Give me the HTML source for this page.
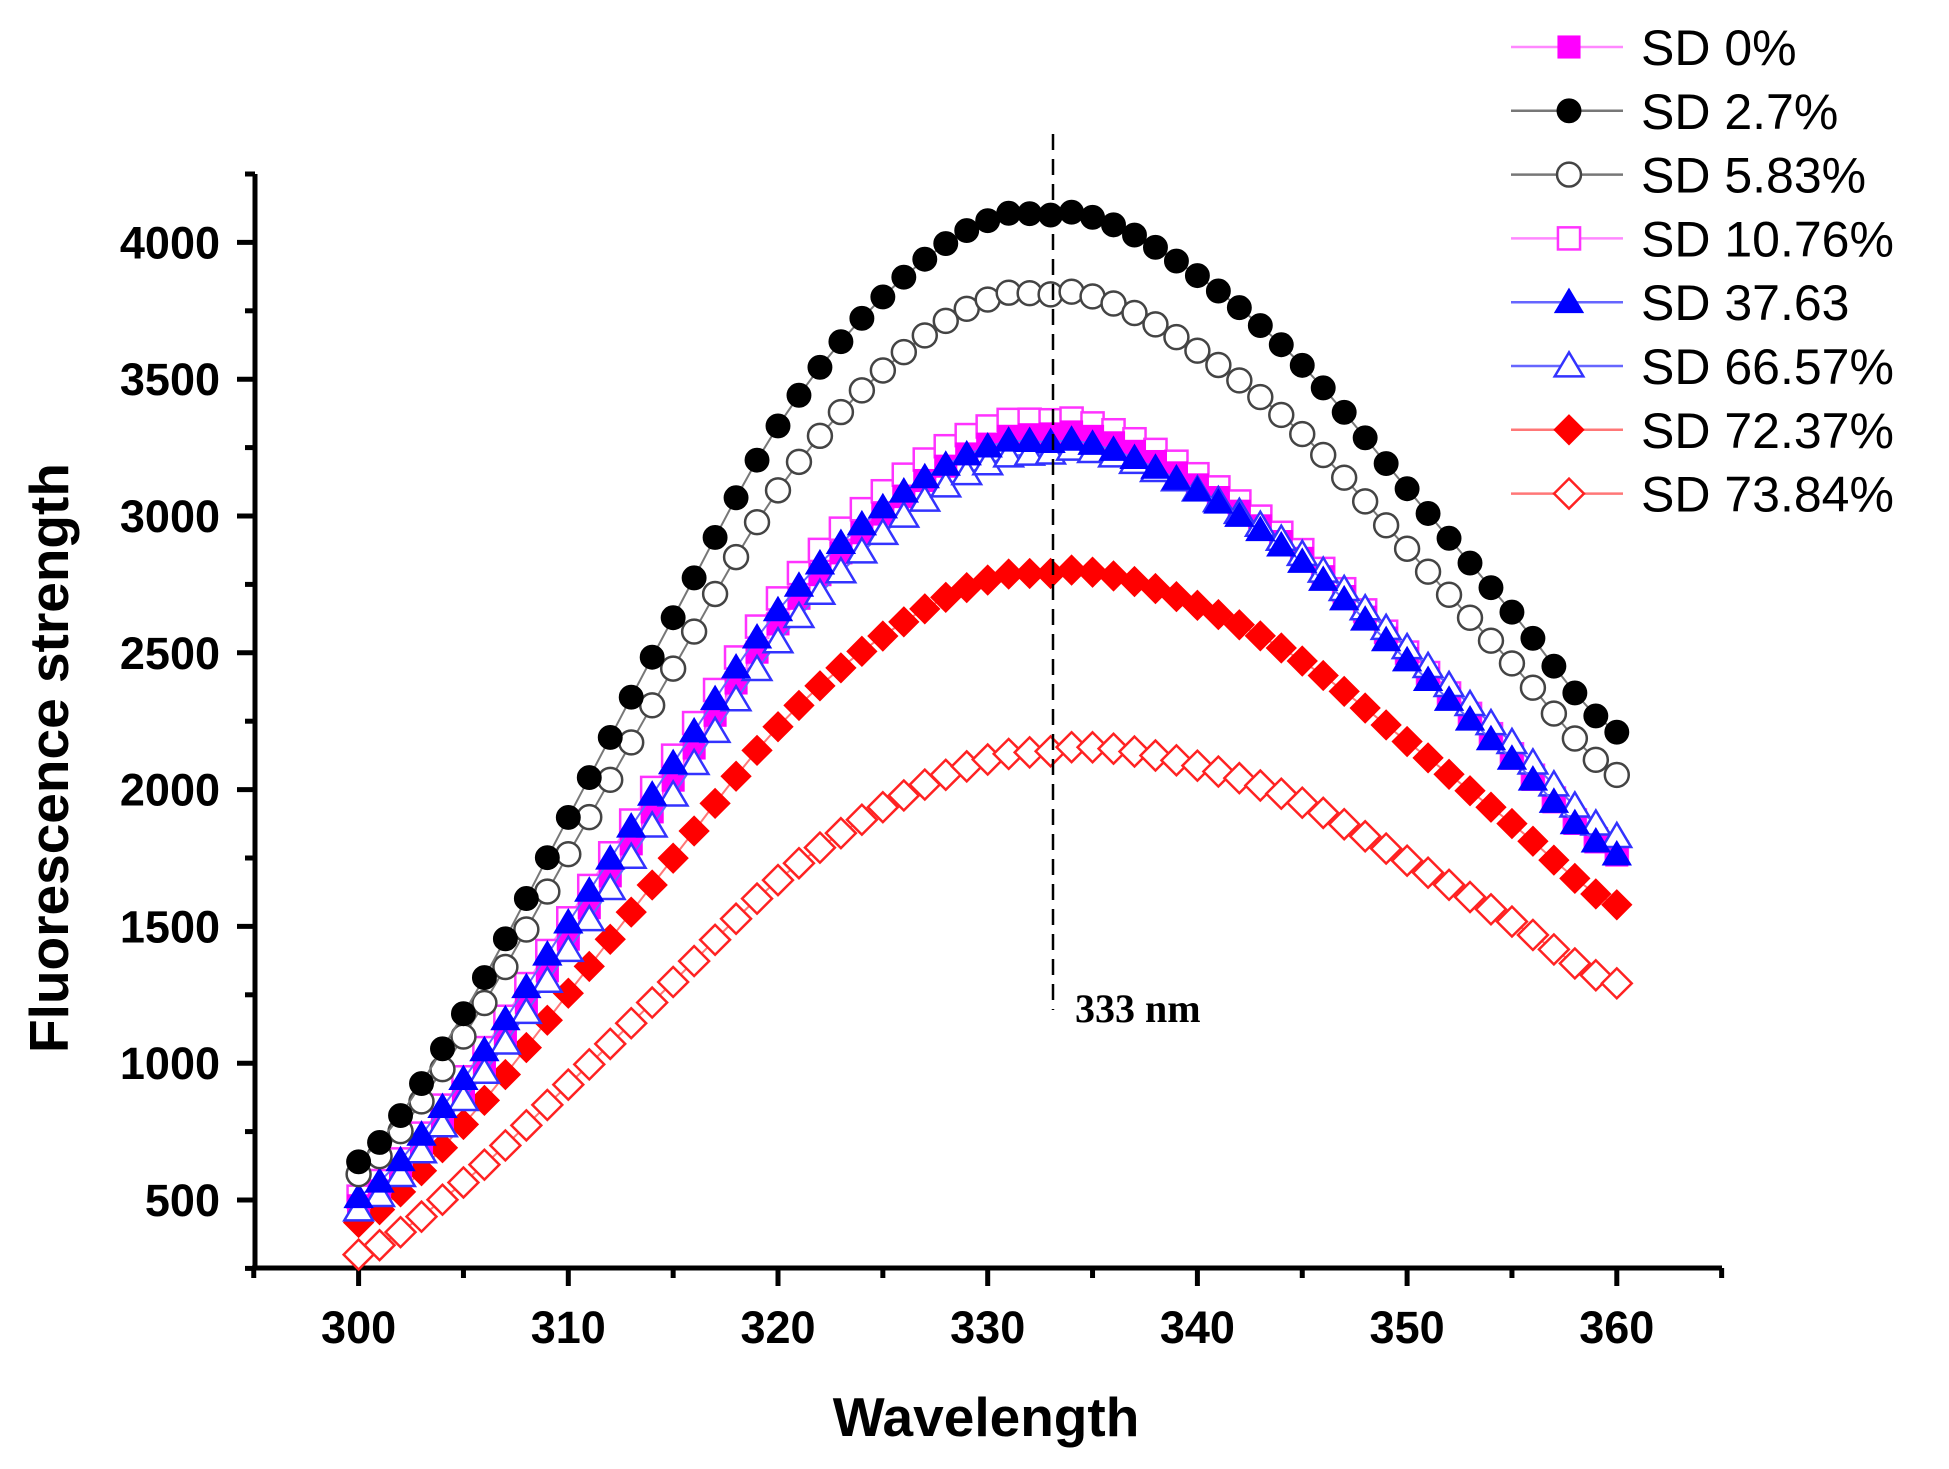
<!DOCTYPE html>
<html><head><meta charset="utf-8"><style>
html,body{margin:0;padding:0;background:#fff;}
svg{display:block;}
text{font-family:"Liberation Sans",Arial,sans-serif;}
</style></head><body>
<svg id="s" width="1949" height="1469" viewBox="0 0 1949 1469" xmlns="http://www.w3.org/2000/svg">
<g id="axes" stroke="#000" stroke-width="5" fill="none">
<line x1="255" y1="174" x2="255" y2="1268"/>
<line x1="252" y1="1268" x2="1722" y2="1268"/>
</g>
<g id="ticks"></g>
<g id="data"></g>
<line x1="1053" y1="134" x2="1053" y2="1010" stroke="#000" stroke-width="2.5" stroke-dasharray="16,9"/>
<text x="1075" y="1022" font-weight="bold" font-size="40" style="font-family:'Liberation Serif',serif">333 nm</text>
<text x="986" y="1436" text-anchor="middle" font-weight="bold" font-size="55">Wavelength</text>
<text transform="translate(68,758) rotate(-90)" text-anchor="middle" font-weight="bold" font-size="55">Fluorescence strength</text>
<g id="legend"></g>
</svg>
<script>
var NS="http://www.w3.org/2000/svg";
function el(t,a,p){var e=document.createElementNS(NS,t);for(var k in a)e.setAttribute(k,a[k]);if(p)p.appendChild(e);return e;}
function X(w){return 358.6+(w-300)*20.97;}
function Y(v){return 1200-(v-500)*0.2736;}
var tk=document.getElementById('ticks');
for(var w=295;w<=365;w+=5){var maj=(w%10==0);el('line',{x1:X(w),y1:1268,x2:X(w),y2:1268+(maj?18:10),stroke:'#000','stroke-width':5},tk);
 if(maj){var t=el('text',{x:X(w),y:1343,'text-anchor':'middle','font-weight':'bold','font-size':45},tk);t.textContent=w;}}
for(var v=250;v<=4250;v+=250){var maj=(v%500==0);el('line',{x1:255,y1:Y(v),x2:255-(maj?18:10),y2:Y(v),stroke:'#000','stroke-width':5},tk);
 if(maj){var t=el('text',{x:220,y:Y(v)+16,'text-anchor':'end','font-weight':'bold','font-size':45},tk);t.textContent=v;}}
var kx=[300,305,310,315,320,325,330,333,335,340,345,350,355,360];
var kf=[0.156,0.288,0.463,0.641,0.812,0.927,0.995,1,0.998,0.946,0.866,0.756,0.646,0.539];
function shape(x){for(var i=0;i<kx.length-1;i++){if(x<=kx[i+1]){var t=(x-kx[i])/(kx[i+1]-kx[i]);
 var p0=kf[Math.max(i-1,0)],p1=kf[i],p2=kf[i+1],p3=kf[Math.min(i+2,kf.length-1)];
 var t2=t*t,t3=t2*t;return 0.5*((2*p1)+(-p0+p2)*t+(2*p0-5*p1+4*p2-p3)*t2+(-p0+3*p1-3*p2+p3)*t3);}}return kf[kf.length-1];}
var S=[
 {n:'SD 0%',c:'#ff00ff',lc:'#ff88ff',m:'sq',f:1,pk:3300,l:0.93,r:0.99},
 {n:'SD 2.7%',c:'#000',lc:'#777',m:'ci',f:1,pk:4100,l:1,r:1},
 {n:'SD 5.83%',c:'#444',lc:'#777',m:'ci',f:0,pk:3810,l:1.0,r:1.0},
 {n:'SD 10.76%',c:'#ff33ff',lc:'#ff88ff',m:'sq',f:0,pk:3350,l:0.98,r:0.98},
 {n:'SD 37.63',c:'#0000ff',lc:'#6666ff',m:'tr',f:1,pk:3270,l:1.0,r:1.0},
 {n:'SD 66.57%',c:'#3333ff',lc:'#6666ff',m:'tr',f:0,pk:3230,l:0.92,r:1.05},
 {n:'SD 72.37%',c:'#ff0000',lc:'#ff7777',m:'di',f:1,pk:2790,l:0.96,r:1.05},
 {n:'SD 73.84%',c:'#ff2222',lc:'#ff7777',m:'di',f:0,pk:2140,l:0.9,r:1.12}
];
function marker(s,x,y,g,sz){var r=sz/2,a={fill:s.f?s.c:'#fff',stroke:s.c,'stroke-width':s.f?1:2.5};
 if(s.m=='sq'){a.x=x-r*0.85;a.y=y-r*0.85;a.width=r*1.7;a.height=r*1.7;el('rect',a,g);}
 else if(s.m=='ci'){a.cx=x;a.cy=y;a.r=r*0.92;el('circle',a,g);}
 else if(s.m=='tr'){a.points=(x)+','+(y-r*1.05)+' '+(x-r*1.1)+','+(y+r*0.8)+' '+(x+r*1.1)+','+(y+r*0.8);el('polygon',a,g);}
 else {a.points=x+','+(y-r*1.15)+' '+(x+r*1.15)+','+y+' '+x+','+(y+r*1.15)+' '+(x-r*1.15)+','+y;el('polygon',a,g);}}
var dg=document.getElementById('data');
var order=[7,6,3,0,5,4,2,1];
order.forEach(function(i){var s=S[i];var pts=[];
 for(var w=300;w<=360;w++){var f=shape(w);var adj=w<333?(1+(s.l-1)*(333-w)/33):(1+(s.r-1)*(w-333)/27);
  pts.push([X(w),Y(s.pk*f*adj)]);}
 var g=el('g',{},dg);
 el('polyline',{points:pts.map(function(p){return p.join(',')}).join(' '),fill:'none',stroke:s.lc,'stroke-width':2},g);
 pts.forEach(function(p){marker(s,p[0],p[1],g,26);});});
var lg=document.getElementById('legend');
S.forEach(function(s,i){var y=47+i*63.8;
 el('line',{x1:1511,y1:y,x2:1623,y2:y,stroke:s.lc,'stroke-width':2.5},lg);
 marker(s,1569,y,lg,26);
 var t=el('text',{x:1641,y:y+18,'font-size':50},lg);t.textContent=s.n;});
</script>
</body></html>
